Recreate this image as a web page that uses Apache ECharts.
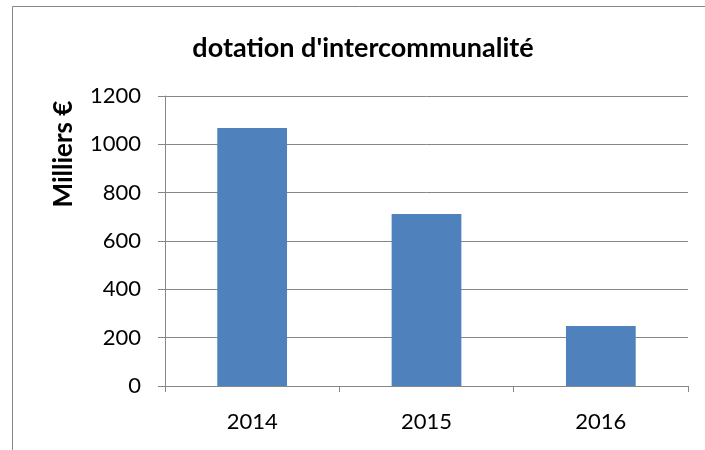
<!DOCTYPE html>
<html>
<head>
<meta charset="utf-8">
<script src="https://cdn.jsdelivr.net/npm/echarts@6/dist/echarts.min.js"></script>
<style>
  html, body { margin: 0; padding: 0; background: #fff; }
  #chart { width: 705px; height: 450px; }
</style>
</head>
<body>
<div id="chart"></div>
<script>
// données
var years = ["2014", "2015", "2016"];
var dotation = [1068, 712, 248];
var yTicks = [0, 200, 400, 600, 800, 1000, 1200];

var chart = echarts.init(document.getElementById("chart"));
var grey = "#868686";
var font = "Lato, 'Open Sans', sans-serif";

chart.setOption({
    animation: false,
    backgroundColor: "#fff",
    title: {
        text: "dotation d'intercommunalité",
        left: 358,
        top: 30,
        textAlign: "center",
        textStyle: { fontFamily: font, fontSize: 27, fontWeight: "bold", color: "#000" }
    },
    graphic: [
        {
            type: "rect",
            shape: { x: 12.5, y: 6.5, width: 800, height: 600 },
            style: { fill: "none", stroke: grey, lineWidth: 1 }
        },
        {
            type: "text",
            x: 64,
            y: 154,
            rotation: Math.PI / 2,
            style: {
                text: "Milliers €",
                font: "bold 26px " + font,
                fill: "#000",
                align: "center",
                verticalAlign: "middle"
            }
        }
    ],
    grid: { left: 165, right: 17, top: 96, bottom: 64 },
    xAxis: {
        type: "category",
        data: years,
        axisLine: { lineStyle: { color: grey, width: 1 } },
        axisTick: { show: true, length: 6, lineStyle: { color: grey } },
        axisLabel: { color: "#000", fontFamily: font, fontSize: 22, margin: 25 }
    },
    yAxis: {
        type: "value",
        min: yTicks[0],
        max: yTicks[yTicks.length - 1],
        interval: 200,
        axisLine: { show: true, lineStyle: { color: grey, width: 1 } },
        axisTick: { show: true, length: 7, lineStyle: { color: grey } },
        axisLabel: {
            color: "#000", fontFamily: font, fontSize: 22, margin: 24,
            formatter: function (v) { return String(v); }
        },
        splitLine: { lineStyle: { color: grey, width: 1 } }
    },
    series: [
        {
            type: "bar",
            data: dotation,
            barWidth: "40%",
            itemStyle: { color: "#4F81BD" }
        }
    ]
});
</script>
</body>
</html>
